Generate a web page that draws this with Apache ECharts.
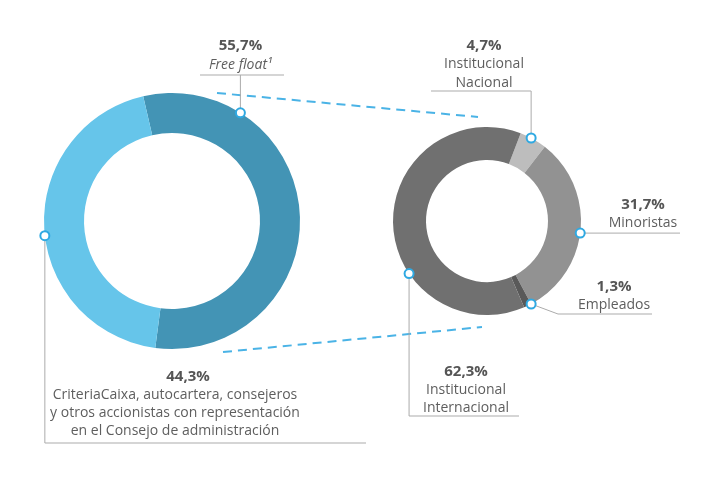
<!DOCTYPE html>
<html><head><meta charset="utf-8">
<script src="https://cdn.jsdelivr.net/npm/echarts@6/dist/echarts.min.js"></script>
<style>html,body{margin:0;padding:0;background:#fff}#c{width:701px;height:489px}</style>
</head><body><div id="c"></div>
<script>
// Data
const leftNames = ['Free float', 'CriteriaCaixa y otros'];
const leftValues = [55.7, 44.3];
const leftColors = ['#4394b5', '#66c5ea'];
const rightNames = ['Institucional Nacional', 'Minoristas', 'Empleados', 'Institucional Internacional'];
const rightValues = [4.7, 31.7, 1.3, 62.3];
const rightColors = ['#bdbdbd', '#929292', '#595959', '#707070'];

const FONT = 'Open Sans';
const TXT = '#5e5e5e';
const LINE = '#ababab';
const BLUE = '#2fa9e2';

const L = {cx: 172, cy: 221, r0: 88, r: 128, start: 103};
const R = {cx: 487, cy: 221, r0: 61, r: 94, start: 69};

// point on outer edge; angle in degrees clockwise from 12 o'clock
function edge(p, deg) {
  const a = deg * Math.PI / 180;
  return [p.cx + p.r * Math.sin(a), p.cy - p.r * Math.cos(a)];
}

const g = [];
function poly(pts, dashed, color, w) {
  g.push({type: 'polyline', silent: true, z: 5, shape: {points: pts},
    style: {stroke: color || LINE, lineWidth: w || 1, fill: null, lineDash: dashed ? [9, 6] : null}});
}
function dot(pt) {
  g.push({type: 'circle', silent: true, z: 10, shape: {cx: pt[0], cy: pt[1], r: 4.5},
    style: {fill: '#fff', stroke: BLUE, lineWidth: 2}});
}
function text(x, y, s, bold, italic) {
  g.push({type: 'text', silent: true, z: 10, x: x, y: y,
    style: {text: s, fill: bold ? '#555555' : TXT,
      font: (italic ? 'italic ' : '') + (bold ? 'bold 15px ' : '14px ') + '"' + FONT + '"',
      textAlign: 'center', textVerticalAlign: 'middle'}});
}

// dashed connectors
poly([[217, 93], [478, 117]], true, '#4ab3e6', 2);
poly([[223, 352], [482, 327]], true, '#4ab3e6', 2);

// Free float
const pFF = edge(L, 32.3);
poly([[pFF[0], pFF[1]], [pFF[0], 75]]);
poly([[200, 75], [284, 75]]);
dot(pFF);
text(pFF[0], 46, '55,7%', true);
text(pFF[0], 65, 'Free float\u00b9', false, true);

// 44.3
const pCR = edge(L, 263.4);
poly([[pCR[0], pCR[1]], [pCR[0], 443], [366, 443]]);
dot(pCR);
text(188, 377, '44,3%', true);
text(175, 395, 'CriteriaCaixa, autocartera, consejeros');
text(175, 413, 'y otros accionistas con representación');
text(175, 431, 'en el Consejo de administración');

// Nacional
const pNa = edge(R, 28);
poly([[431, 91], [pNa[0], 91], [pNa[0], pNa[1]]]);
dot(pNa);
text(484, 46, '4,7%', true);
text(484, 64, 'Institucional');
text(484, 83, 'Nacional');

// Minoristas
const pMi = edge(R, 97.4);
poly([[pMi[0], pMi[1]], [680, pMi[1]]]);
dot(pMi);
text(643, 205, '31,7%', true);
text(643, 223, 'Minoristas');

// Empleados
const pEm = edge(R, 152);
poly([[pEm[0], pEm[1]], [558, 314], [652, 314]]);
dot(pEm);
text(614, 287, '1,3%', true);
text(614, 305, 'Empleados');

// Internacional
const pIn = edge(R, 236);
poly([[pIn[0], pIn[1]], [pIn[0], 416], [519, 416]]);
dot(pIn);
text(466, 372, '62,3%', true);
text(466, 390, 'Institucional');
text(466, 408, 'Internacional');

const chart = echarts.init(document.getElementById('c'), null, {renderer: 'canvas'});
chart.setOption({
  animation: false,
  series: [
    {type: 'pie', silent: true, center: [L.cx, L.cy], radius: [L.r0, L.r], startAngle: L.start,
      clockwise: true, label: {show: false}, labelLine: {show: false}, emphasis: {disabled: true},
      itemStyle: {borderWidth: 0},
      data: leftNames.map((n, i) => ({name: n, value: leftValues[i], itemStyle: {color: leftColors[i]}}))},
    {type: 'pie', silent: true, center: [R.cx, R.cy], radius: [R.r0, R.r], startAngle: R.start,
      clockwise: true, label: {show: false}, labelLine: {show: false}, emphasis: {disabled: true},
      itemStyle: {borderWidth: 0},
      data: rightNames.map((n, i) => ({name: n, value: rightValues[i], itemStyle: {color: rightColors[i]}}))}
  ],
  graphic: {elements: g}
});
</script></body></html>
